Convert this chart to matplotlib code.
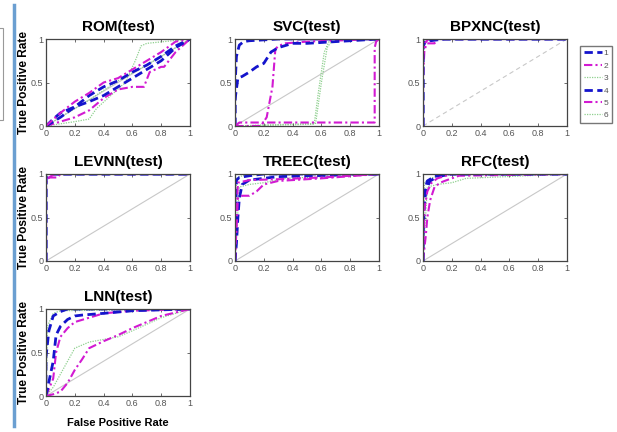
import matplotlib
matplotlib.use("Agg")
import matplotlib.pyplot as plt
from matplotlib.patches import Rectangle
from matplotlib.lines import Line2D

plt.rcParams['font.family'] = ['Liberation Sans', 'DejaVu Sans']

# ---- data -------------------------------------------------------------
x_ticks = [0, 0.2, 0.4, 0.6, 0.8, 1]
x_tick_labels = ["0", "0.2", "0.4", "0.6", "0.8", "1"]
y_ticks = [0, 0.5, 1]
y_tick_labels = ["0", "0.5", "1"]
series_names = ["1", "2", "3", "4", "5", "6"]

rom_fpr = [
    [0, 0.05, 0.1, 0.2, 0.3, 0.4, 0.5, 0.6, 0.7, 0.8, 0.9, 1],
    [0, 0.1, 0.2, 0.3, 0.4, 0.5, 0.6, 0.68, 0.72, 0.8, 0.82, 0.9, 1],
    [0, 0.2, 0.3, 0.35, 0.45, 0.55, 0.62, 0.66, 0.7, 1],
    [0, 0.1, 0.2, 0.3, 0.4, 0.5, 0.6, 0.7, 0.8, 0.9, 1],
    [0, 0.1, 0.2, 0.3, 0.4, 0.5, 0.6, 0.7, 0.8, 0.9, 1],
    [0, 0.3, 0.5, 0.7, 1],
]
rom_tpr = [
    [0, 0.08, 0.15, 0.22, 0.35, 0.45, 0.52, 0.62, 0.7, 0.8, 0.92, 1],
    [0, 0.05, 0.1, 0.18, 0.32, 0.42, 0.45, 0.45, 0.62, 0.68, 0.68, 0.85, 1],
    [0, 0.05, 0.08, 0.2, 0.35, 0.5, 0.75, 0.92, 0.95, 1],
    [0, 0.1, 0.22, 0.28, 0.35, 0.45, 0.55, 0.65, 0.75, 0.9, 1],
    [0, 0.15, 0.28, 0.38, 0.5, 0.55, 0.65, 0.75, 0.85, 0.97, 1],
    [0, 0.3, 0.52, 0.7, 1],
]

svc_fpr = [
    [0, 0, 0.01, 0.03, 0.06, 0.1, 0.3, 1],
    [0, 0.18, 0.22, 0.26, 0.28, 0.3, 0.35, 0.5, 1],
    [0, 0.55, 0.58, 0.62, 0.66, 1],
    [0, 0, 0.02, 0.05, 0.1, 0.15, 0.2, 0.25, 0.3, 0.4, 0.5, 1],
    [0, 0.03, 0.97, 0.97, 0.98, 1],
    [0, 0.56, 0.6, 0.64, 0.68, 1],
]
svc_tpr = [
    [0, 0.45, 0.8, 0.93, 0.97, 0.98, 1, 1],
    [0, 0.0, 0.1, 0.45, 0.88, 0.92, 0.95, 0.97, 1],
    [0, 0.02, 0.4, 0.85, 1, 1],
    [0, 0.3, 0.55, 0.57, 0.62, 0.68, 0.72, 0.85, 0.9, 0.95, 0.95, 1],
    [0, 0.04, 0.04, 0.9, 0.97, 1],
    [0, 0.03, 0.5, 0.9, 1, 1],
]

bpx_fpr = [
    [0, 0, 0.01, 0.05, 0.15, 1],
    [0, 0, 0.01, 0.03, 0.08, 0.1, 1],
    [0, 0, 0.02, 1],
    [0, 0, 0.02, 0.1, 1],
    [0, 0, 0.01, 0.04, 1],
    [0, 0, 0.03, 1],
]
bpx_tpr = [
    [0, 0.9, 0.96, 0.98, 1, 1],
    [0, 0.55, 0.88, 0.95, 0.95, 1, 1],
    [0, 0.95, 1, 1],
    [0, 0.92, 0.98, 1, 1],
    [0, 0.8, 0.95, 1, 1],
    [0, 0.96, 1, 1],
]

lev_fpr = [
    [0, 0, 0.01, 0.05, 1],
    [0, 0, 0.02, 0.08, 0.1, 1],
    [0, 0, 0.02, 1],
    [0, 0, 0.01, 0.03, 1],
    [0, 0, 0.03, 0.06, 1],
    [0, 0, 0.02, 1],
]
lev_tpr = [
    [0, 0.95, 0.98, 1, 1],
    [0, 0.9, 0.96, 0.96, 1, 1],
    [0, 0.97, 1, 1],
    [0, 0.96, 0.99, 1, 1],
    [0, 0.93, 0.97, 1, 1],
    [0, 0.98, 1, 1],
]

tree_fpr = [
    [0, 0.01, 0.02, 0.03, 0.05, 0.1, 0.3, 1],
    [0, 0.02, 0.05, 0.1, 0.15, 0.2, 0.3, 0.6, 1],
    [0, 0.03, 0.1, 0.2, 0.35, 1],
    [0, 0.01, 0.03, 0.1, 0.2, 1],
    [0, 0.02, 0.1, 0.3, 0.6, 1],
    [0, 0.01, 0.05, 0.2, 1],
]
tree_tpr = [
    [0, 0.2, 0.5, 0.72, 0.88, 0.93, 0.97, 1],
    [0, 0.72, 0.75, 0.75, 0.8, 0.88, 0.92, 0.95, 1],
    [0, 0.85, 0.88, 0.9, 0.95, 1],
    [0, 0.93, 0.96, 0.98, 1, 1],
    [0, 0.9, 0.93, 0.94, 0.96, 1],
    [0, 0.95, 0.98, 1, 1],
]

rfc_fpr = [
    [0, 0, 0.01, 0.02, 0.05, 0.1, 0.2, 1],
    [0, 0.02, 0.03, 0.05, 0.08, 0.12, 0.15, 0.25, 1],
    [0, 0.03, 0.1, 0.2, 0.3, 1],
    [0, 0, 0.01, 0.03, 0.08, 0.15, 1],
    [0, 0.01, 0.03, 0.06, 0.1, 0.2, 1],
    [0, 0.01, 0.05, 0.15, 1],
]
rfc_tpr = [
    [0, 0.3, 0.65, 0.82, 0.92, 0.97, 1, 1],
    [0, 0.3, 0.5, 0.7, 0.85, 0.9, 0.92, 0.98, 1],
    [0, 0.85, 0.88, 0.9, 0.95, 1],
    [0, 0.5, 0.8, 0.92, 0.97, 1, 1],
    [0, 0.6, 0.8, 0.9, 0.95, 1, 1],
    [0, 0.9, 0.95, 1, 1],
]

lnn_fpr = [
    [0, 0, 0.02, 0.05, 0.1, 0.15, 1],
    [0, 0.05, 0.07, 0.1, 0.15, 0.2, 0.3, 0.4, 0.6, 1],
    [0, 0.05, 0.1, 0.15, 0.2, 0.3, 0.5, 0.6, 0.8, 1],
    [0, 0.05, 0.07, 0.1, 0.15, 0.2, 0.25, 0.4, 0.6, 1],
    [0, 0.05, 0.1, 0.15, 0.2, 0.25, 0.3, 0.4, 0.5, 0.6, 0.7, 0.8, 1],
    [0, 0.01, 0.05, 0.1, 1],
]
lnn_tpr = [
    [0, 0.45, 0.75, 0.92, 0.97, 1, 1],
    [0, 0.2, 0.5, 0.68, 0.78, 0.85, 0.9, 0.95, 0.98, 1],
    [0, 0.1, 0.25, 0.4, 0.55, 0.62, 0.68, 0.75, 0.9, 1],
    [0, 0.4, 0.7, 0.8, 0.88, 0.92, 0.93, 0.95, 0.98, 1],
    [0, 0.02, 0.05, 0.15, 0.3, 0.42, 0.55, 0.63, 0.7, 0.78, 0.85, 0.92, 1],
    [0, 0.8, 0.95, 0.98, 1],
]

panel_titles = ["ROM(test)", "SVC(test)", "BPXNC(test)",
                "LEVNN(test)", "TREEC(test)", "RFC(test)", "LNN(test)"]
panel_fpr = [rom_fpr, svc_fpr, bpx_fpr, lev_fpr, tree_fpr, rfc_fpr, lnn_fpr]
panel_tpr = [rom_tpr, svc_tpr, bpx_tpr, lev_tpr, tree_tpr, rfc_tpr, lnn_tpr]

# ---- styling -------------------------------------------------------------
BLUE = "#1414cc"
MAGENTA = "#d21ad2"
GREEN = "#8fd08f"
styles = [
    dict(color=BLUE, ls=(0, (3, 1.6)), lw=2.0),
    dict(color=MAGENTA, ls=(0, (4, 1.5, 1, 1.5)), lw=1.5),
    dict(color=GREEN, ls=(0, (1, 1)), lw=0.9),
    dict(color=BLUE, ls=(0, (3, 1.6)), lw=2.0),
    dict(color=MAGENTA, ls=(0, (4, 1.5, 1, 1.5)), lw=1.5),
    dict(color=GREEN, ls=(0, (1, 1)), lw=0.9),
]

W, H = 617, 432
fig = plt.figure(figsize=(W / 100, H / 100), dpi=100)

col_left = [46, 235, 423]
row_top = [39, 174, 309]
ax_w, ax_h = 144, 87


def px_axes(left, top):
    return fig.add_axes([left / W, 1 - (top + ax_h) / H, ax_w / W, ax_h / H])


axes = []
for i, title in enumerate(panel_titles):
    r, c = divmod(i, 3)
    ax = px_axes(col_left[c], row_top[r])
    axes.append(ax)
    diag_ls = (0, (4, 3)) if title.startswith("BPXNC") else "-"
    ax.plot([0, 1], [0, 1], color="#c8c8c8", lw=0.8, ls=diag_ls, zorder=1)
    for k in range(6):
        ax.plot(panel_fpr[i][k], panel_tpr[i][k], label=series_names[k],
                zorder=2 + (k % 3 == 2) * -0.5, **styles[k])
    ax.set_xlim(0, 1)
    ax.set_ylim(0, 1)
    ax.set_xticks(x_ticks)
    ax.set_xticklabels(x_tick_labels)
    ax.set_yticks(y_ticks)
    ax.set_yticklabels(y_tick_labels)
    ax.tick_params(direction="in", length=2, width=0.6, labelsize=6.5,
                   labelcolor="#555555", color="#555555", pad=2,
                   top=True, right=True)
    for s in ax.spines.values():
        s.set_color("#444444")
        s.set_linewidth(0.9)
    ax.set_title(title, fontsize=11, fontweight="bold", pad=6)
    if c == 0:
        ax.set_ylabel("True Positive Rate", fontsize=8.6, fontweight="bold")
        ax.yaxis.set_label_coords(-0.108, 0.5)

axes[-1].set_xlabel("False Positive Rate", fontsize=8, fontweight="bold",
                    labelpad=7)

# legend to the right of the BPXNC panel
handles = [Line2D([0], [0], **styles[k]) for k in range(6)]
fig.legend(handles, series_names, loc="upper left",
           bbox_to_anchor=(576 / W, 1 - 42 / H), fontsize=6,
           handlelength=2.2, handletextpad=0.2, labelspacing=0.55,
           borderpad=0.4, frameon=True, fancybox=False,
           edgecolor="#555555", labelcolor="#555555")

# slide decorations: accent bar and partial box at the left edge
fig.add_artist(Line2D([14 / W, 14 / W], [1 - 5 / H, 1 - 426 / H],
                      color="#6b9fd1", lw=2.5, transform=fig.transFigure))
fig.add_artist(Rectangle((-10 / W, 1 - 120 / H), 13 / W, 92 / H,
                         fill=False, edgecolor="#999999", lw=0.8,
                         transform=fig.transFigure))

fig.savefig("out.png", dpi=100)
